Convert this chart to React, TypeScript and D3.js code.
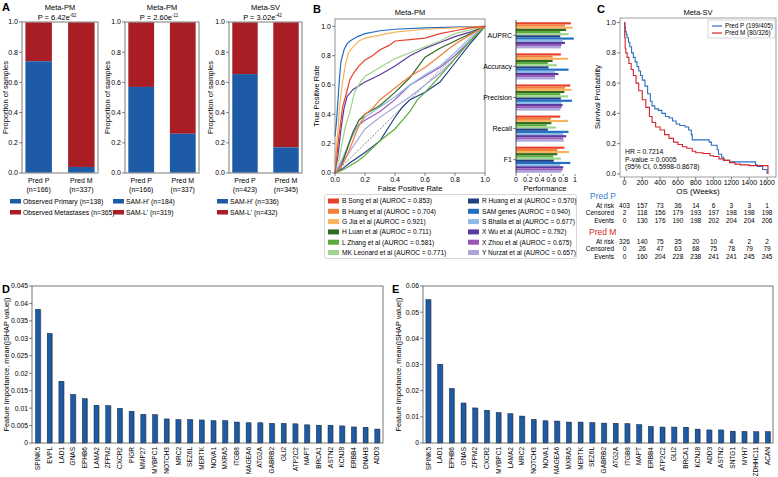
import React from "react";
import * as d3 from "d3";

const W = 778;
const H = 477;
const FONT = "'Liberation Sans', Arial, Helvetica, sans-serif";
const BLUE = "#1d5ba6";
const RED = "#a81e24";
const AXIS = "#333";

// ---- panel A data ----
const aTitles = ["Meta-PM", "Meta-PM", "Meta-SV"];
const aPBase = ["P = 6.42e", "P = 2.60e", "P = 3.02e"];
const aPExp = ["-62", "-11", "-42"];
const aGroups = ["Pred P", "Pred M"];
const aCounts = [["(n=166)", "(n=337)"], ["(n=166)", "(n=337)"], ["(n=423)", "(n=345)"]];
const aBlueShare = [[0.74, 0.04], [0.57, 0.26], [0.655, 0.17]];
const aLegendBlue = ["Observed Primary (n=138)", "SAM-H' (n=184)", "SAM-H' (n=336)"];
const aLegendRed = ["Observed Metastases (n=365)", "SAM-L' (n=319)", "SAM-L' (n=432)"];
const aTicks = [0, 0.2, 0.4, 0.6, 0.8, 1.0];

// ---- panel B data ----
const methods = [
  "B Song et al", "B Huang et al", "G Jia et al", "H Luan et al", "L Zhang et al", "MK Leonard et al",
  "R Huang et al", "SAM genes", "S Bhalla et al", "X Wu et al", "X Zhou et al", "Y Nurzat et al",
];
const aurocs = ["0.853", "0.704", "0.921", "0.711", "0.581", "0.771", "0.570", "0.940", "0.677", "0.792", "0.675", "0.657"];
const methodColors = [
  "#e8412b", "#f37e3c", "#f8b35e", "#2f6b22", "#5aaa3d", "#9fd58c",
  "#22407f", "#1f6fc2", "#8cb9e6", "#5a3a9e", "#9a58b5", "#a9a5dc",
];
const rocBSong = [[0, 0], [0.01, 0.08], [0.02, 0.2], [0.04, 0.36], [0.05, 0.45], [0.07, 0.52], [0.1, 0.64], [0.13, 0.69], [0.16, 0.73], [0.2, 0.77], [0.25, 0.8], [0.3, 0.84], [0.36, 0.87], [0.4, 0.9], [0.5, 0.91], [0.6, 0.92], [0.7, 0.95], [0.8, 0.97], [0.9, 0.99], [1, 1]];
const rocBHuang = [[0, 0], [0.04, 0.04], [0.08, 0.12], [0.12, 0.22], [0.15, 0.3], [0.2, 0.4], [0.25, 0.44], [0.3, 0.5], [0.4, 0.58], [0.5, 0.66], [0.6, 0.72], [0.7, 0.8], [0.8, 0.88], [0.9, 0.94], [1, 1]];
const rocGJia = [[0, 0.05], [0.02, 0.3], [0.03, 0.45], [0.05, 0.62], [0.07, 0.74], [0.09, 0.82], [0.12, 0.86], [0.16, 0.9], [0.2, 0.92], [0.3, 0.94], [0.4, 0.96], [0.6, 0.98], [0.8, 0.99], [1, 1]];
const rocHLuan = [[0, 0], [0.04, 0.04], [0.08, 0.16], [0.12, 0.28], [0.16, 0.36], [0.2, 0.4], [0.3, 0.46], [0.4, 0.55], [0.45, 0.6], [0.5, 0.65], [0.55, 0.72], [0.6, 0.79], [0.7, 0.85], [0.8, 0.9], [0.9, 0.95], [1, 1]];
const rocLZhang = [[0, 0], [0.05, 0.02], [0.1, 0.05], [0.15, 0.08], [0.2, 0.12], [0.3, 0.22], [0.4, 0.3], [0.45, 0.36], [0.5, 0.42], [0.55, 0.5], [0.6, 0.55], [0.7, 0.66], [0.8, 0.78], [0.9, 0.9], [1, 1]];
const rocMKLeonard = [[0, 0.02], [0.03, 0.1], [0.05, 0.22], [0.07, 0.32], [0.1, 0.42], [0.13, 0.55], [0.17, 0.62], [0.2, 0.66], [0.3, 0.72], [0.4, 0.78], [0.5, 0.82], [0.6, 0.86], [0.7, 0.9], [0.8, 0.95], [1, 1]];
const rocRHuang = [[0, 0], [0.05, 0.03], [0.1, 0.07], [0.2, 0.14], [0.25, 0.18], [0.3, 0.22], [0.35, 0.3], [0.4, 0.38], [0.45, 0.45], [0.5, 0.5], [0.6, 0.55], [0.7, 0.62], [0.8, 0.75], [0.9, 0.88], [1, 1]];
const rocSAM = [[0, 0.25], [0.01, 0.35], [0.02, 0.5], [0.03, 0.65], [0.04, 0.76], [0.06, 0.84], [0.08, 0.88], [0.1, 0.9], [0.15, 0.93], [0.2, 0.95], [0.3, 0.97], [0.4, 0.98], [0.6, 0.99], [0.8, 0.995], [1, 1]];
const rocSBhalla = [[0, 0], [0.05, 0.1], [0.1, 0.22], [0.15, 0.32], [0.2, 0.38], [0.3, 0.45], [0.4, 0.52], [0.5, 0.6], [0.6, 0.67], [0.7, 0.73], [0.8, 0.82], [0.9, 0.92], [1, 1]];
const rocXWu = [[0, 0], [0.02, 0.12], [0.04, 0.3], [0.06, 0.44], [0.08, 0.52], [0.12, 0.57], [0.2, 0.62], [0.3, 0.67], [0.4, 0.73], [0.5, 0.8], [0.6, 0.85], [0.7, 0.89], [0.8, 0.93], [0.9, 0.96], [1, 1]];
const rocXZhou = [[0, 0], [0.05, 0.08], [0.1, 0.22], [0.15, 0.32], [0.2, 0.36], [0.3, 0.42], [0.4, 0.5], [0.5, 0.6], [0.6, 0.66], [0.7, 0.72], [0.8, 0.8], [0.9, 0.9], [1, 1]];
const rocYNurzat = [[0, 0], [0.05, 0.06], [0.1, 0.15], [0.2, 0.3], [0.3, 0.38], [0.4, 0.45], [0.5, 0.52], [0.6, 0.6], [0.7, 0.68], [0.8, 0.78], [0.9, 0.9], [1, 1]];
const rocCurves = [rocBSong, rocBHuang, rocGJia, rocHLuan, rocLZhang, rocMKLeonard, rocRHuang, rocSAM, rocSBhalla, rocXWu, rocXZhou, rocYNurzat];
const rocTicks = [0, 0.2, 0.4, 0.6, 0.8, 1.0];

const perfMetrics = ["AUPRC", "Accuracy", "Precision", "Recall", "F1"];
const perfAUPRC = [0.93, 0.83, 0.96, 0.85, 0.75, 0.89, 0.75, 0.98, 0.79, 0.83, 0.77, 0.76];
const perfAccuracy = [0.76, 0.62, 0.88, 0.62, 0.54, 0.69, 0.55, 0.89, 0.66, 0.72, 0.66, 0.66];
const perfPrecision = [0.92, 0.83, 0.94, 0.82, 0.75, 0.88, 0.76, 0.95, 0.77, 0.79, 0.77, 0.75];
const perfRecall = [0.75, 0.59, 0.88, 0.6, 0.52, 0.68, 0.54, 0.89, 0.8, 0.85, 0.8, 0.81];
const perfF1 = [0.82, 0.7, 0.9, 0.7, 0.63, 0.76, 0.64, 0.92, 0.75, 0.8, 0.79, 0.77];
const perfValues = [perfAUPRC, perfAccuracy, perfPrecision, perfRecall, perfF1];
const perfTicks = [0, 0.2, 0.4, 0.6, 0.8, 1];

// ---- panel C data ----
const kmPredP = [[0, 1], [5, 0.97], [10, 0.94], [20, 0.92], [30, 0.9], [45, 0.87], [60, 0.84], [80, 0.8], [100, 0.77], [120, 0.74], [140, 0.71], [160, 0.68], [180, 0.65], [200, 0.62], [230, 0.58], [260, 0.53], [290, 0.48], [310, 0.45], [340, 0.43], [380, 0.42], [420, 0.4], [460, 0.38], [500, 0.37], [540, 0.35], [580, 0.33], [620, 0.32], [680, 0.31], [720, 0.29], [750, 0.26], [760, 0.225], [950, 0.21], [975, 0.19], [1040, 0.16], [1055, 0.13], [1090, 0.11], [1110, 0.09], [1180, 0.08], [1470, 0.06], [1490, 0.05], [1550, 0.03], [1600, 0.0]];
const kmPredM = [[0, 1], [3, 0.9], [8, 0.83], [15, 0.8], [30, 0.77], [50, 0.73], [75, 0.69], [100, 0.65], [130, 0.6], [160, 0.55], [200, 0.49], [240, 0.44], [280, 0.38], [310, 0.34], [350, 0.31], [400, 0.29], [450, 0.26], [500, 0.235], [550, 0.21], [600, 0.195], [650, 0.18], [700, 0.17], [760, 0.15], [800, 0.14], [880, 0.135], [960, 0.12], [1000, 0.115], [1060, 0.1], [1120, 0.09], [1180, 0.075], [1240, 0.065], [1300, 0.06], [1400, 0.055], [1605, 0.055], [1610, 0]];
const kmXTicks = [0, 200, 400, 600, 800, 1000, 1200, 1400, 1600];
const kmYTicks = [0, 0.2, 0.4, 0.6, 0.8, 1.0];
const riskRows = ["At risk", "Censored", "Events"];
const riskP = [[403, 157, 73, 36, 14, 6, 3, 3, 1], [2, 118, 156, 179, 193, 197, 198, 198, 198], [0, 130, 176, 190, 198, 202, 204, 204, 206]];
const riskM = [[326, 140, 75, 35, 20, 10, 4, 2, 2], [0, 26, 47, 63, 68, 75, 78, 79, 79], [0, 160, 204, 228, 238, 241, 241, 245, 245]];

// ---- panel D / E data ----
const dGenes = ["SPINK5", "EVPL", "LAD1", "GNAS", "EPHB6", "LAMA2", "ZFPM2", "CXCR2", "PIGR", "MMP27", "MYBPC1", "NOTCH3", "MRC2", "SEZ6L", "MERTK", "NOVA1", "MXRA5", "ITGB8", "MAGEA6", "ATG2A", "GABRB2", "GLI2", "ATP2C2", "MAPT", "BRCA1", "ASTN2", "KCNJ8", "ERBB4", "DNAH3", "ADD3"];
const dValues = [0.0383, 0.0314, 0.0177, 0.0139, 0.0127, 0.0108, 0.0107, 0.0099, 0.0091, 0.0082, 0.0081, 0.0069, 0.0067, 0.0067, 0.0066, 0.0064, 0.0064, 0.006, 0.0058, 0.0058, 0.0056, 0.0056, 0.0055, 0.0052, 0.0051, 0.0051, 0.0049, 0.0046, 0.0045, 0.004];
const dTicks = [0, 0.005, 0.01, 0.015, 0.02, 0.025, 0.03, 0.035, 0.04, 0.045];
const eGenes = ["SPINK5", "LAD1", "EPHB6", "GNAS", "ZFPM2", "CXCR2", "MYBPC1", "LAMA2", "MRC2", "NOTCH3", "NOVA1", "MAGEA6", "MXRA5", "MERTK", "SEZ6L", "GABRB2", "ATG2A", "ITGB8", "MAPT", "ERBB4", "ATP2C2", "GLI2", "BRCA1", "KCNJ8", "ADD3", "ASTN2", "SNTG1", "MYH7", "ZDHHC11", "ACAN"];
const eValues = [0.0548, 0.0301, 0.0208, 0.0153, 0.0134, 0.0125, 0.0116, 0.0112, 0.0103, 0.009, 0.0085, 0.0084, 0.008, 0.008, 0.0078, 0.0076, 0.0075, 0.0074, 0.007, 0.0063, 0.0061, 0.0061, 0.006, 0.0053, 0.005, 0.005, 0.0045, 0.0044, 0.0043, 0.0043];
const eTicks = [0, 0.01, 0.02, 0.03, 0.04, 0.05, 0.06];

const fmtTrim = (v: number) => String(+v.toFixed(3));

function PanelA({ i, x0, x1, labelX }: { i: number; x0: number; x1: number; labelX: number }) {
  const top = 22, bot = 173;
  const y = d3.scaleLinear().domain([0, 1]).range([bot, top]);
  const x = d3.scaleBand().domain(aGroups).range([x0, x1]).paddingInner(0.38).paddingOuter(0.08);
  const cx = (x0 + x1) / 2;
  return (
    <g>
      <text x={cx} y={10} textAnchor="middle" fontSize={7.5}>{aTitles[i]}</text>
      <text x={cx - 3} y={20} textAnchor="middle" fontSize={7.5}>
        {aPBase[i]}
        <tspan dy={-3} fontSize={4.5}>{aPExp[i]}</tspan>
      </text>
      {aGroups.map((g, k) => {
        const yb = y(aBlueShare[i][k]);
        return (
          <g key={g}>
            <rect x={x(g)} y={top} width={x.bandwidth()} height={yb - top} fill={RED} />
            <rect x={x(g)} y={yb} width={x.bandwidth()} height={bot - yb} fill={BLUE} />
            <text x={x(g)! + x.bandwidth() / 2} y={183} textAnchor="middle" fontSize={7}>{g}</text>
            <text x={x(g)! + x.bandwidth() / 2} y={192} textAnchor="middle" fontSize={7}>{aCounts[i][k]}</text>
          </g>
        );
      })}
      <rect x={x0} y={top} width={x1 - x0} height={bot - top} fill="none" stroke="#9a9a9a" strokeWidth={1.3} />
      {aTicks.map((t) => (
        <g key={t}>
          <line x1={x0 - 3} x2={x0} y1={y(t)} y2={y(t)} stroke={AXIS} strokeWidth={0.6} />
          <text x={x0 - 4} y={y(t) + 2.4} textAnchor="end" fontSize={7}>{t.toFixed(1)}</text>
        </g>
      ))}
      <text transform={`translate(${labelX},${(top + bot) / 2}) rotate(-90)`} textAnchor="middle" fontSize={7.5}>Proportion of samples</text>
      <rect x={x0 - 12} y={199} width={11} height={4.5} fill={BLUE} />
      <text x={x0 + 1} y={203.5} fontSize={6.8}>{aLegendBlue[i]}</text>
      <rect x={x0 - 12} y={210} width={11} height={4.5} fill={RED} />
      <text x={x0 + 1} y={214.5} fontSize={6.8}>{aLegendRed[i]}</text>
    </g>
  );
}

function PanelB() {
  const x = d3.scaleLinear().domain([0, 1]).range([335, 485]);
  const y = d3.scaleLinear().domain([0, 1.05]).range([173, 19]);
  const line = d3.line<number[]>().x((d) => x(d[0])).y((d) => y(d[1]));
  // performance
  const px = d3.scaleLinear().domain([0, 1]).range([516, 575]);
  const gy = d3.scaleBand().domain(perfMetrics).range([21, 174]).paddingInner(0.16).paddingOuter(0.04);
  const my = d3.scaleBand().domain(methods).range([0, gy.bandwidth()]);
  return (
    <g>
      <text x={313} y={13} fontSize={11} fontWeight="bold">B</text>
      <text x={410} y={15} textAnchor="middle" fontSize={7.5}>Meta-PM</text>
      <line x1={x(0)} y1={y(0)} x2={x(1)} y2={y(1)} stroke="#333" strokeWidth={0.6} strokeDasharray="2,1.5" />
      {rocCurves.map((c, i) => (
        <path key={i} d={line(c) || ""} fill="none" stroke={methodColors[i]} strokeWidth={1.2} />
      )).reverse()}
      <rect x={335} y={19} width={150} height={154} fill="none" stroke="#777" strokeWidth={0.8} />
      {rocTicks.map((t) => (
        <g key={t}>
          <line x1={x(t)} x2={x(t)} y1={173} y2={176} stroke={AXIS} strokeWidth={0.6} />
          <text x={x(t)} y={182} textAnchor="middle" fontSize={7}>{t.toFixed(1)}</text>
          <line x1={332} x2={335} y1={y(t)} y2={y(t)} stroke={AXIS} strokeWidth={0.6} />
          <text x={331} y={y(t) + 2.4} textAnchor="end" fontSize={7}>{t.toFixed(1)}</text>
        </g>
      ))}
      <text x={410} y={191} textAnchor="middle" fontSize={7.5}>False Positive Rate</text>
      <text transform={`translate(319,${(19 + 173) / 2}) rotate(-90)`} textAnchor="middle" fontSize={7.5}>True Positive Rate</text>

      {perfMetrics.map((m, gi) => (
        <g key={m}>
          {methods.map((me, k) => (
            <rect key={me} x={px(0)} y={gy(m)! + my(me)!} width={px(perfValues[gi][k]) - px(0)} height={my.bandwidth()} fill={methodColors[k]} />
          ))}
          <line x1={513} x2={516} y1={gy(m)! + gy.bandwidth() / 2} y2={gy(m)! + gy.bandwidth() / 2} stroke={AXIS} strokeWidth={0.6} />
          <text x={512} y={gy(m)! + gy.bandwidth() / 2 + 2.4} textAnchor="end" fontSize={7}>{m}</text>
        </g>
      ))}
      <line x1={516} x2={516} y1={20} y2={174} stroke="#222" strokeWidth={0.8} />
      {perfTicks.map((t) => (
        <g key={t}>
          <line x1={px(t)} x2={px(t)} y1={174} y2={176} stroke={AXIS} strokeWidth={0.6} />
          <text x={px(t)} y={182} textAnchor="middle" fontSize={7}>{String(t)}</text>
        </g>
      ))}
      <text x={545} y={191} textAnchor="middle" fontSize={7.5}>Performance</text>

      <rect x={324.5} y={194.5} width={252} height={64} rx={2} fill="#fff" stroke="#ccc" strokeWidth={0.8} />
      {methods.map((me, k) => {
        const col = Math.floor(k / 6);
        const row = k % 6;
        const lx = col === 0 ? 328 : 468;
        const ly = 201 + row * 10.3;
        return (
          <g key={me}>
            <rect x={lx} y={ly - 2.5} width={11} height={5} fill={methodColors[k]} />
            <text x={lx + 14} y={ly + 2.3} fontSize={6.6}>{`${me} (AUROC = ${aurocs[k]})`}</text>
          </g>
        );
      })}
    </g>
  );
}

function PanelC() {
  const x = d3.scaleLinear().domain([-50, 1700]).range([620, 776]);
  const y = d3.scaleLinear().domain([-0.02, 1.03]).range([177, 18]);
  const line = d3.line<number[]>().x((d) => x(d[0])).y((d) => y(d[1])).curve(d3.curveStepAfter);
  const pCol = "#2a6fc0";
  const mCol = "#d2262c";
  return (
    <g>
      <text x={597} y={13} fontSize={11} fontWeight="bold">C</text>
      <text x={698} y={15} textAnchor="middle" fontSize={7.5}>Meta-SV</text>
      <path d={line(kmPredP) || ""} fill="none" stroke={pCol} strokeWidth={1.1} />
      <path d={line(kmPredM) || ""} fill="none" stroke={mCol} strokeWidth={1.1} />
      <rect x={620} y={18} width={156} height={159} fill="none" stroke="#888" strokeWidth={0.8} />
      {kmXTicks.map((t) => (
        <g key={t}>
          <line x1={x(t)} x2={x(t)} y1={177} y2={180} stroke={AXIS} strokeWidth={0.6} />
          <text x={x(t)} y={185} textAnchor="middle" fontSize={7}>{t}</text>
        </g>
      ))}
      {kmYTicks.map((t) => (
        <g key={t}>
          <line x1={617} x2={620} y1={y(t)} y2={y(t)} stroke={AXIS} strokeWidth={0.6} />
          <text x={616} y={y(t) + 2.4} textAnchor="end" fontSize={7}>{t.toFixed(1)}</text>
        </g>
      ))}
      <text x={698} y={194} textAnchor="middle" fontSize={8}>OS (Weeks)</text>
      <text transform={`translate(600,97) rotate(-90)`} textAnchor="middle" fontSize={7.5}>Survival Probability</text>
      <rect x={708} y={20} width={67} height={18} fill="#fff" stroke="#bbb" strokeWidth={0.6} />
      <line x1={712} x2={722} y1={26} y2={26} stroke={pCol} strokeWidth={1.2} />
      <text x={725} y={28.3} fontSize={6.3}>Pred P (199/405)</text>
      <line x1={712} x2={722} y1={33} y2={33} stroke={mCol} strokeWidth={1.2} />
      <text x={725} y={35.3} fontSize={6.3}>Pred M (80/326)</text>
      <text x={625} y={154} fontSize={6.8}>HR = 0.7214</text>
      <text x={625} y={161.5} fontSize={6.8}>P-value = 0.0005</text>
      <text x={625} y={169} fontSize={6.8}>(95% CI, 0.5998-0.8678)</text>

      <text x={590} y={199} fontSize={8.5} fill="#3a7dc9">Pred P</text>
      {riskRows.map((r, k) => (
        <g key={"p" + r}>
          <text x={614} y={207.5 + k * 7.6} textAnchor="end" fontSize={6.5}>{r}</text>
          {kmXTicks.map((t, j) => (
            <text key={t} x={x(t)} y={207.5 + k * 7.6} textAnchor="middle" fontSize={6.5}>{riskP[k][j]}</text>
          ))}
        </g>
      ))}
      <text x={589} y={235} fontSize={8.5} fill="#d02a2a">Pred M</text>
      {riskRows.map((r, k) => (
        <g key={"m" + r}>
          <text x={614} y={244 + k * 7.4} textAnchor="end" fontSize={6.5}>{r}</text>
          {kmXTicks.map((t, j) => (
            <text key={t} x={x(t)} y={244 + k * 7.4} textAnchor="middle" fontSize={6.5}>{riskM[k][j]}</text>
          ))}
        </g>
      ))}
    </g>
  );
}

function ShapPanel({ letter, lx, genes, values, ticks, x0, x1, pad, labelX }: {
  letter: string; lx: number; genes: string[]; values: number[]; ticks: number[]; x0: number; x1: number; pad: number; labelX: number;
}) {
  const top = 286, bot = 443;
  const y = d3.scaleLinear().domain([0, ticks[ticks.length - 1]]).range([bot, top]);
  const x = d3.scalePoint().domain(genes).range([x0, x1]).padding(pad);
  const bw = x.step() * 0.4;
  return (
    <g>
      <text x={lx} y={293} fontSize={11} fontWeight="bold">{letter}</text>
      {genes.map((g, i) => (
        <g key={g}>
          <rect x={x(g)! - bw / 2 + 1} y={y(values[i])} width={bw} height={bot - y(values[i])} fill="#9a9a9a" />
          <rect x={x(g)! - bw / 2} y={y(values[i])} width={bw} height={bot - y(values[i])} fill={BLUE} stroke="#0f2340" strokeWidth={0.5} />
          <text transform={`translate(${x(g)! + 2.3},${bot + 4}) rotate(-90)`} textAnchor="end" fontSize={6.5}>{g}</text>
        </g>
      ))}
      <rect x={x0} y={top} width={x1 - x0} height={bot - top} fill="none" stroke="#555" strokeWidth={0.8} />
      {ticks.map((t) => (
        <g key={t}>
          <line x1={x0 - 3} x2={x0} y1={y(t)} y2={y(t)} stroke={AXIS} strokeWidth={0.6} />
          <text x={x0 - 4} y={y(t) + 2.4} textAnchor="end" fontSize={6.8}>{fmtTrim(t)}</text>
        </g>
      ))}
      <text transform={`translate(${labelX},${(top + bot) / 2}) rotate(-90)`} textAnchor="middle" fontSize={7.3}>Feature Importance, mean(|SHAP value|)</text>
    </g>
  );
}

export default function App() {
  return (
    <div style={{ position: "absolute", left: 0, top: 0, background: "#fff" }}>
      <svg width={W} height={H} fontFamily={FONT} style={{ display: "block" }}>
        <rect width={W} height={H} fill="#fff" />
        <text x={2} y={11} fontSize={11} fontWeight="bold">A</text>
        <PanelA i={0} x0={22} x1={98} labelX={8} />
        <PanelA i={1} x0={125} x1={199} labelX={110} />
        <PanelA i={2} x0={229} x1={302} labelX={213} />
        <PanelB />
        <PanelC />
        <ShapPanel letter="D" lx={2} genes={dGenes} values={dValues} ticks={dTicks} x0={32} x1={383} pad={0.5} labelX={9} />
        <ShapPanel letter="E" lx={392} genes={eGenes} values={eValues} ticks={eTicks} x0={423} x1={773} pad={0.45} labelX={401} />
      </svg>
    </div>
  );
}
